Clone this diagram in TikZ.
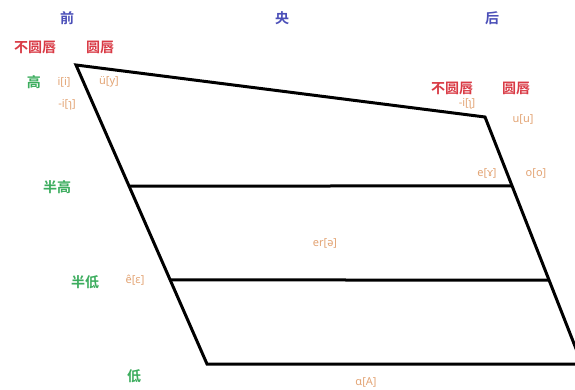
\documentclass[tikz,border=0pt]{standalone}
\usepackage{fontspec}
\newfontfamily\cjk{Noto Sans CJK SC}[BoldFont={* Bold}]
\newfontfamily\ipa{Noto Sans}
\usetikzlibrary{calc}
\definecolor{hdblue}{HTML}{4B4FB8}
\definecolor{hdred}{HTML}{D93A45}
\definecolor{hdgreen}{HTML}{3CAD5E}
\definecolor{hdorange}{HTML}{E3A474}
\begin{document}
\begin{tikzpicture}[x=1pt,y=-1pt,
  colhead/.style={font=\cjk\bfseries\fontsize{14}{14}\selectfont,text=hdblue,inner sep=0pt},
  lip/.style={font=\cjk\bfseries\fontsize{14}{14}\selectfont,text=hdred,inner sep=0pt},
  hgt/.style={font=\cjk\bfseries\fontsize{14}{14}\selectfont,text=hdgreen,inner sep=0pt},
  vow/.style={font=\ipa\fontsize{11}{11}\selectfont,text=hdorange,inner sep=0pt},
  edgeline/.style={line width=3pt,line join=miter}]
\useasboundingbox (0,0) rectangle (575,390);
\clip (0,0) rectangle (575,390);
\fill[white] (0,0) rectangle (575,390);
% corners
\coordinate (TL) at (76,65);
\coordinate (TR) at (485,117);
\coordinate (BR) at (582,364);
\coordinate (BL) at (207,364);
\coordinate (L1) at ($(TL)!0.405!(BL)$);
\coordinate (R1) at ($(TR)!0.279!(BR)$);
\coordinate (L2) at ($(TL)!0.719!(BL)$);
\coordinate (R2) at ($(TR)!0.66!(BR)$);
\draw[edgeline] (TL) -- (TR) -- (BR) -- (BL) -- cycle;
\draw[edgeline] (L1) -- (R1);
\draw[edgeline] (L2) -- (R2);
% headers
\node[colhead] (qian) at (67,18) {前};
\node[colhead] (yang) at (282,18) {央};
\node[colhead] (hou) at (492,18) {后};
\node[lip] (bu1) at (35,47) {不圆唇};
\node[lip] (yuan1) at (100,47) {圆唇};
\node[lip] (bu2) at (452,88) {不圆唇};
\node[lip] (yuan2) at (516,88) {圆唇};
% heights
\node[hgt] (gao) at (34,82) {高};
\node[hgt] (banGao) at (57,187) {半高};
\node[hgt] (banDi) at (85,282) {半低};
\node[hgt] (di) at (134,376) {低};
% vowels
\node[vow] (vi) at (64,82) {i[i]};
\node[vow] (vy) at (109,82) {ü[y]};
\node[vow] (vz) at (67,105) {-i[ɿ]};
\node[vow] (vzh) at (467,104) {-i[ʅ]};
\node[vow] (vu) at (523,119) {u[u]};
\node[vow] (ve) at (487,173) {e[ɤ]};
\node[vow] (vo) at (536,173) {o[o]};
\node[vow] (ver) at (325,243) {er[ə]};
\node[vow] (vee) at (135,280) {ê[ɛ]};
\node[vow] (va) at (366,382) {ɑ[A]};
\end{tikzpicture}
\end{document}
